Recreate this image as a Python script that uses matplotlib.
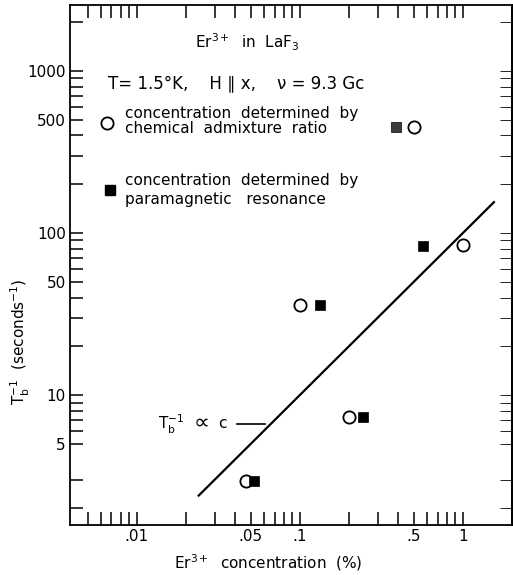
import matplotlib
matplotlib.use("Agg")
import matplotlib.pyplot as plt
from matplotlib.ticker import FixedLocator, NullFormatter

plt.rcParams['font.family'] = ['DejaVu Sans']
plt.rcParams['mathtext.default'] = 'regular'

# Data
circle_x = [0.047, 0.1, 0.2, 0.5, 1.0]
circle_y = [2.95, 36, 7.3, 450, 84]
square_x = [0.0525, 0.133, 0.245, 0.39, 0.57]
square_y = [2.95, 36, 7.3, 450, 83]
square_colors = ['black', 'black', 'black', '#3c3c3c', 'black']

fit_x = [0.024, 1.55]
fit_y = [2.4, 155]

x_major = [0.01, 0.05, 0.1, 0.5, 1]
x_labels = ['.01', '.05', '.1', '.5', '1']
x_minor = [0.005, 0.006, 0.007, 0.008, 0.009, 0.02, 0.03, 0.04,
           0.06, 0.07, 0.08, 0.09, 0.2, 0.3, 0.4, 0.6, 0.7, 0.8, 0.9]
y_major = [5, 10, 50, 100, 500, 1000]
y_labels = ['5', '10', '50', '100', '500', '1000']
y_minor = [2, 3, 6, 7, 8, 9, 20, 30, 40, 60, 70, 80, 90,
           200, 300, 400, 600, 700, 800, 900, 2000]

W, H = 513, 575
fig = plt.figure(figsize=(W / 100, H / 100), dpi=100)
ax = fig.add_axes([70 / W, 50 / H, 442 / W, 520 / H])
ax.set_xscale('log')
ax.set_yscale('log')
ax.set_xlim(0.0039, 2.0)
ax.set_ylim(1.58, 2550)

ax.plot(fit_x, fit_y, color='black', lw=1.6)
ax.plot(circle_x, circle_y, 'o', ms=8.8, mfc='white', mec='black', mew=1.3, ls='none')
for x, y, c in zip(square_x, square_y, square_colors):
    ax.plot(x, y, 's', ms=7, mfc=c, mec='black', mew=0.5)

# leader line for the T_b^-1 ~ c label
ax.plot([0.041, 0.061], [6.62, 6.62], color='black', lw=1.2)


def px(x, y):
    return x / W, 1 - y / H


fig.text(*px(195, 42), 'Er$^{3+}$  in  LaF$_3$', fontsize=11, va='center', ha='left')
fig.text(*px(108, 83), 'T= 1.5°K,    H ∥ x,    ν = 9.3 Gc', fontsize=12, va='center', ha='left')
fig.text(*px(125, 121), 'concentration  determined  by\nchemical  admixture  ratio',
         fontsize=11, va='center', ha='left', linespacing=0.95)
fig.text(*px(125, 190), 'concentration  determined  by\nparamagnetic   resonance',
         fontsize=11, va='center', ha='left', linespacing=1.3)
fig.text(*px(158, 424), 'T$_b^{-1}$', fontsize=11, va='center', ha='left')
fig.text(*px(202, 423), '∝', fontsize=16, va='center', ha='center')
fig.text(*px(222, 424), 'c', fontsize=11, va='center', ha='center')

# legend symbols
ax.plot([(107 - 70) / 442], [(525 - 123) / 520], 'o', ms=8.8, mfc='white', mec='black',
        mew=1.3, transform=ax.transAxes, clip_on=False)
ax.plot([(110 - 70) / 442], [(525 - 190) / 520], 's', ms=7, mfc='black', mec='black',
        transform=ax.transAxes, clip_on=False)

fig.text(*px(20, 342), 'T$_b^{-1}$  (seconds$^{-1}$)', fontsize=11, rotation=90,
         va='center', ha='center')
fig.text(*px(268, 563), 'Er$^{3+}$  concentration  (%)', fontsize=11, va='center', ha='center')

ax.xaxis.set_major_locator(FixedLocator(x_major))
ax.xaxis.set_minor_locator(FixedLocator(x_minor))
ax.set_xticklabels(x_labels)
ax.xaxis.set_minor_formatter(NullFormatter())
ax.yaxis.set_major_locator(FixedLocator(y_major))
ax.yaxis.set_minor_locator(FixedLocator(y_minor))
ax.set_yticklabels(y_labels)
ax.yaxis.set_minor_formatter(NullFormatter())

ax.tick_params(axis='both', which='both', direction='in', length=9.5, width=1.1,
               top=True, right=False, labelsize=11)
ax.tick_params(axis='x', which='both', pad=3)
ax.tick_params(axis='y', which='both', pad=3)

# thin ticks on the right side
sec = ax.secondary_yaxis('right')
sec.yaxis.set_major_locator(FixedLocator(y_major))
sec.yaxis.set_minor_locator(FixedLocator(y_minor))
sec.tick_params(axis='y', which='both', direction='in', length=9, width=0.6,
                labelright=False)
sec.spines['right'].set_linewidth(1.3)

for s in ax.spines.values():
    s.set_linewidth(1.3)

fig.savefig('out.png', dpi=100)
